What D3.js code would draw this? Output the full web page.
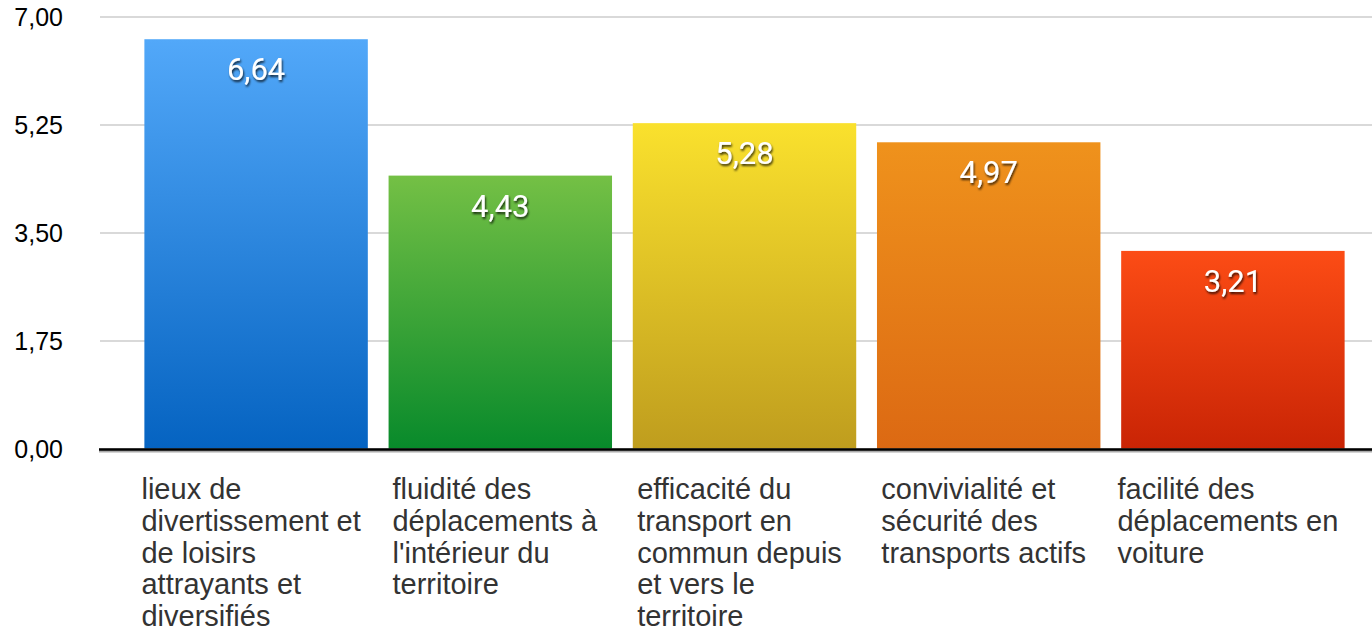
<!DOCTYPE html>
<html>
<head>
<meta charset="utf-8">
<script src="https://cdn.jsdelivr.net/npm/d3@7"></script>
<style>
  body { margin: 0; background: #fff; }
  svg { display: block; }
</style>
</head>
<body>
<div class="draw"></div>
<script>
const width = 1372
const height = 631

// data
const categories = [
  "lieux de\ndivertissement et\nde loisirs\nattrayants et\ndiversifiés",
  "fluidité des\ndéplacements à\nl'intérieur du\nterritoire",
  "efficacité du\ntransport en\ncommun depuis\net vers le\nterritoire",
  "convivialité et\nsécurité des\ntransports actifs",
  "facilité des\ndéplacements en\nvoiture"
]
const values = [6.64, 4.43, 5.28, 4.97, 3.21]
const yTicks = [0, 1.75, 3.5, 5.25, 7]
const topColors = ["#52a8f9", "#74c045", "#fae12d", "#ef921c", "#fc4c15"]
const bottomColors = ["#0563c1", "#088a2b", "#bf9d1e", "#dc6913", "#c92405"]

const fmt = (v) => v.toFixed(2).replace(".", ",")

let svg = d3.select("div.draw")
    .append("svg")
    .attr("width", width)
    .attr("height", height)

let defs = svg.append("defs")

categories.forEach((c, i) => {
  let g = defs.append("linearGradient")
      .attr("id", "grad" + i)
      .attr("x1", 0).attr("y1", 0)
      .attr("x2", 0).attr("y2", 1)
  g.append("stop").attr("offset", "0%").attr("stop-color", topColors[i])
  g.append("stop").attr("offset", "100%").attr("stop-color", bottomColors[i])
})

defs.append("filter")
    .attr("id", "shadow")
    .attr("x", "-20%").attr("y", "-20%")
    .attr("width", "140%").attr("height", "160%")
  .append("feDropShadow")
    .attr("dx", 1).attr("dy", 2)
    .attr("stdDeviation", 1.3)
    .attr("flood-color", "#000")
    .attr("flood-opacity", 0.75)

let x = d3.scaleBand()
    .domain(categories)
    .range([134, 1355])
    .paddingInner(0.085)
    .paddingOuter(0.0425)

let y = d3.scaleLinear()
    .domain([0, 7])
    .range([449, 17])

// grid lines
svg.append("g")
  .selectAll("line")
  .data(yTicks.filter(d => d > 0))
  .enter()
  .append("line")
  .attr("x1", 100)
  .attr("x2", width)
  .attr("y1", d => y(d))
  .attr("y2", d => y(d))
  .style("stroke", "#cccccc")
  .style("stroke-width", 1.5)

// y axis labels
svg.append("g")
  .selectAll("text")
  .data(yTicks)
  .enter()
  .append("text")
  .attr("x", 63)
  .attr("y", d => y(d))
  .attr("text-anchor", "end")
  .attr("dominant-baseline", "central")
  .style("font-family", "'Liberation Sans', Arial, sans-serif")
  .style("font-size", "25px")
  .style("fill", "#000")
  .text(fmt)

// bars
svg.append("g")
  .selectAll("rect")
  .data(values)
  .enter()
  .append("rect")
  .attr("x", (d, i) => x(categories[i]))
  .attr("y", d => y(d))
  .attr("width", x.bandwidth())
  .attr("height", d => y(0) - y(d))
  .style("fill", (d, i) => "url(#grad" + i + ")")

// baseline
svg.append("line")
  .attr("x1", 99)
  .attr("x2", width)
  .attr("y1", y(0) + 1.5)
  .attr("y2", y(0) + 1.5)
  .style("stroke", "#aaaaaa")
  .style("stroke-width", 4)
svg.append("line")
  .attr("x1", 99)
  .attr("x2", width)
  .attr("y1", y(0) + 0.5)
  .attr("y2", y(0) + 0.5)
  .style("stroke", "#000")
  .style("stroke-width", 2.5)

// value labels
svg.append("g")
  .selectAll("text")
  .data(values)
  .enter()
  .append("text")
  .attr("x", (d, i) => x(categories[i]) + x.bandwidth() / 2)
  .attr("y", d => y(d) + 41)
  .attr("text-anchor", "middle")
  .attr("filter", "url(#shadow)")
  .style("font-family", "Roboto, sans-serif")
  .style("font-size", "31px")
  .style("fill", "#fff")
  .text(fmt)

// category labels, left aligned block centered under each bar
let labels = svg.append("g")
  .selectAll("text")
  .data(categories)
  .enter()
  .append("text")
  .style("font-family", "'Liberation Sans', Arial, sans-serif")
  .style("font-size", "29px")
  .style("fill", "#333333")

labels.each(function(c){
  let t = d3.select(this)
  c.split("\n").forEach((line, j) => {
    t.append("tspan")
      .attr("x", 0)
      .attr("y", 499 + j * 31.8)
      .text(line)
  })
  let w = this.getBBox().width
  let cx = x(c) + x.bandwidth() / 2 - 5
  t.selectAll("tspan").attr("x", cx - w / 2)
})
</script>
</body>
</html>
